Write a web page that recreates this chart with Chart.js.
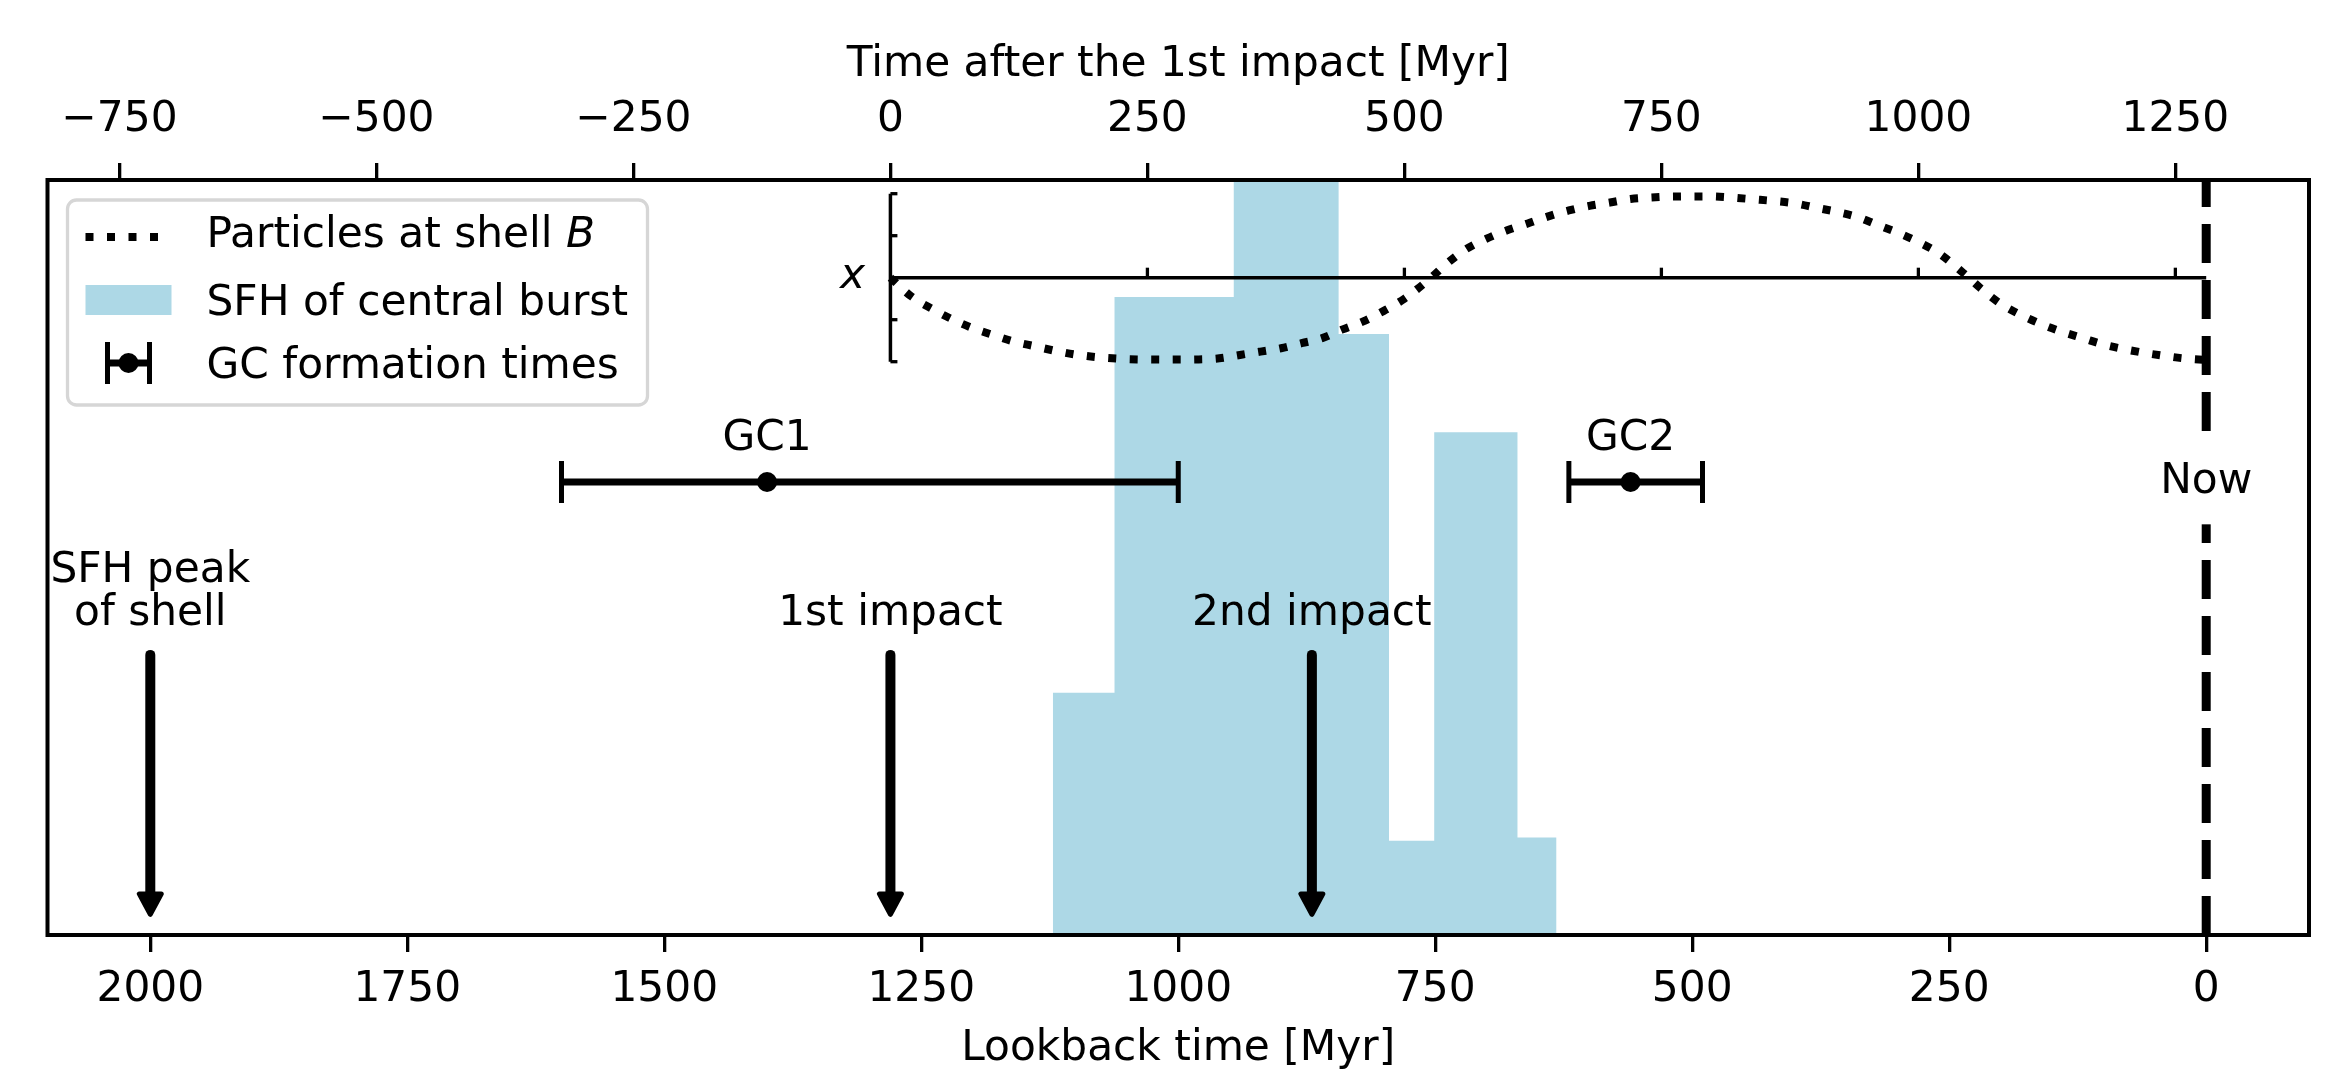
<!DOCTYPE html>
<html><head><meta charset="utf-8">
<script src="https://cdn.jsdelivr.net/npm/chart.js@4.4.1/dist/chart.umd.min.js"></script>
<style>html,body{margin:0;padding:0;background:#fff;} canvas{display:block;}</style>
</head><body>
<canvas id="c" width="2338" height="1070" style="width:2338px;height:1070px"></canvas>
<script>
// ---------------- data ----------------
const bottomTicks = [0, 250, 500, 750, 1000, 1250, 1500, 1750, 2000];
const topTicks = [-750, -500, -250, 0, 250, 500, 750, 1000, 1250];
const lookbackMin = -100, lookbackMax = 2100;
const firstImpactLookback = 1280;

// SFH of central burst: bin edges (lookback, Myr) and relative heights
const sfhEdges = [1122, 1062, 946, 844, 795, 751, 670, 632];
const sfhValues = [0.321, 0.845, 1.15, 0.796, 0.125, 0.666, 0.129];

// Particles at shell B: x vs time after the 1st impact (Myr)
const curveT = [0, 20, 40, 60, 80, 100, 120, 140, 160, 180, 200, 220, 240, 270, 300, 320, 340, 360, 380, 400,
  420, 440, 460, 480, 500, 526, 540, 560, 580, 600, 620, 640, 660, 680, 700, 720, 740, 760, 795, 820,
  840, 860, 880, 900, 920, 940, 960, 980, 1000, 1020, 1049, 1060, 1080, 1100, 1120, 1140, 1160, 1180,
  1200, 1220, 1240, 1260, 1280];
const curveX = [0, -0.44, -0.735, -0.99, -1.20, -1.365, -1.52, -1.63, -1.74, -1.83, -1.89, -1.925, -1.945, -1.95, -1.945, -1.92, -1.84, -1.76, -1.68, -1.56,
  -1.44, -1.23, -1.04, -0.79, -0.50, 0, 0.31, 0.68, 0.93, 1.13, 1.29, 1.46, 1.60, 1.71, 1.79, 1.875, 1.91, 1.93, 1.935, 1.905,
  1.865, 1.825, 1.77, 1.67, 1.57, 1.45, 1.26, 1.07, 0.85, 0.58, 0, -0.24, -0.62, -0.89, -1.11, -1.29, -1.44, -1.59,
  -1.70, -1.79, -1.865, -1.925, -1.96];
const insetTimeTicks = [250, 500, 750, 1000, 1250];
const insetXTicks = [-2, -1, 0, 1, 2];
const insetXRange = [-2, 2];
const insetEnd = 1280;

// GC formation times (lookback, Myr)
const gcNames = ['GC1', 'GC2'];
const gcTimes = [1400, 560];
const gcOld = [1600, 620];
const gcYoung = [1000, 490];
const gcLevel = 0.6;
const gcLabelLevel = 0.643;

// Arrows
const arrowLabels = [['SFH peak', 'of shell'], ['1st impact'], ['2nd impact']];
const arrowTimes = [2000, 1280, 870];
const arrowTop = 0.371, arrowTip = 0.024, arrowTextLevel = 0.411;

const nowLookback = 0;
const nowLabelLevel = 0.585;

const legendLabels = ['Particles at shell ', 'B', 'SFH of central burst', 'GC formation times'];

// ---------------- style ----------------
const FONT = '"DejaVu Sans"';
const FS = 42.3;
const BLUE = '#add8e6';

const sfhPoints = [{x: sfhEdges[0], y: 0}];
for (let i = 0; i < sfhValues.length; i++) {
  sfhPoints.push({x: sfhEdges[i], y: sfhValues[i]});
  sfhPoints.push({x: sfhEdges[i + 1], y: sfhValues[i]});
}
sfhPoints.push({x: sfhEdges[sfhEdges.length - 1], y: 0});

const curvePoints = curveT.map((t, i) => ({x: t, y: curveX[i]}));
const fmt = v => (v < 0 ? '\u2212' + Math.abs(v) : String(v));

function txt(ctx, s, x, y, align, base, italic) {
  ctx.font = (italic ? 'italic ' : '') + FS + 'px ' + FONT;
  ctx.textAlign = align; ctx.textBaseline = base; ctx.fillStyle = '#000';
  ctx.fillText(s, x, y);
}

const deco = {
  id: 'deco',
  afterDatasetsDraw(chart) {
    const ctx = chart.ctx;
    const {x, x2, y, y2} = chart.scales;
    const a = chart.chartArea;
    ctx.save();

    // "Now" label with white box
    const nx = x.getPixelForValue(nowLookback);
    const ny = y.getPixelForValue(nowLabelLevel);
    ctx.fillStyle = '#fff';
    ctx.fillRect(nx - 56, ny - 58, 112, 89);
    txt(ctx, 'Now', nx, ny, 'center', 'alphabetic');

    // inset axes
    ctx.strokeStyle = '#000';
    const ix0 = x2.getPixelForValue(0);
    const iy0 = y2.getPixelForValue(0);
    ctx.lineWidth = 3.5; ctx.lineCap = 'butt';
    ctx.beginPath();
    ctx.moveTo(ix0, y2.getPixelForValue(insetXRange[0]));
    ctx.lineTo(ix0, y2.getPixelForValue(insetXRange[1]));
    ctx.stroke();
    ctx.beginPath();
    ctx.moveTo(ix0, iy0); ctx.lineTo(x2.getPixelForValue(insetEnd), iy0);
    ctx.stroke();
    ctx.lineWidth = 3.3;
    insetXTicks.forEach(v => {
      const py = y2.getPixelForValue(v);
      ctx.beginPath(); ctx.moveTo(ix0, py); ctx.lineTo(ix0 + 7, py); ctx.stroke();
    });
    insetTimeTicks.forEach(v => {
      const px = x2.getPixelForValue(v);
      ctx.beginPath(); ctx.moveTo(px, iy0); ctx.lineTo(px, iy0 - 10); ctx.stroke();
    });
    txt(ctx, 'x', ix0 - 38, iy0 + 10, 'center', 'alphabetic', true);

    // GC error bars and labels
    const gy = y.getPixelForValue(gcLevel);
    gcTimes.forEach((t, i) => {
      const p1 = x.getPixelForValue(gcOld[i]);
      const p2 = x.getPixelForValue(gcYoung[i]);
      ctx.lineWidth = 7;
      ctx.beginPath(); ctx.moveTo(p1, gy); ctx.lineTo(p2, gy); ctx.stroke();
      ctx.lineWidth = 5;
      [p1, p2].forEach(p => { ctx.beginPath(); ctx.moveTo(p, gy - 21); ctx.lineTo(p, gy + 21); ctx.stroke(); });
      ctx.fillStyle = '#000';
      ctx.beginPath(); ctx.arc(x.getPixelForValue(t), gy, 10, 0, Math.PI * 2); ctx.fill();
      txt(ctx, gcNames[i], x.getPixelForValue(t), y.getPixelForValue(gcLabelLevel), 'center', 'alphabetic');
    });

    // arrows
    arrowTimes.forEach((t, i) => {
      const px = x.getPixelForValue(t);
      const yt = y.getPixelForValue(arrowTop);
      const yp = y.getPixelForValue(arrowTip);
      ctx.strokeStyle = '#000'; ctx.fillStyle = '#000';
      ctx.lineWidth = 10; ctx.lineCap = 'round';
      ctx.beginPath(); ctx.moveTo(px, yt); ctx.lineTo(px, yp - 20); ctx.stroke();
      ctx.lineCap = 'butt'; ctx.lineJoin = 'round'; ctx.lineWidth = 5;
      ctx.beginPath();
      ctx.moveTo(px - 11, yp - 23); ctx.lineTo(px + 11, yp - 23); ctx.lineTo(px, yp - 2.5); ctx.closePath();
      ctx.fill(); ctx.stroke();
      const lines = arrowLabels[i];
      const by = y.getPixelForValue(arrowTextLevel);
      lines.forEach((s, k) => {
        txt(ctx, s, px, by - (lines.length - 1 - k) * 43, 'center', 'alphabetic');
      });
    });

    // frame
    ctx.lineJoin = 'miter';
    ctx.strokeStyle = '#000'; ctx.lineWidth = 4;
    ctx.strokeRect(a.left, a.top, a.right - a.left, a.bottom - a.top);

    // legend
    const L = a.left + 20, T = a.top + 20, W = 580, H = 205, r = 9;
    ctx.beginPath();
    ctx.moveTo(L + r, T); ctx.lineTo(L + W - r, T); ctx.arcTo(L + W, T, L + W, T + r, r);
    ctx.lineTo(L + W, T + H - r); ctx.arcTo(L + W, T + H, L + W - r, T + H, r);
    ctx.lineTo(L + r, T + H); ctx.arcTo(L, T + H, L, T + H - r, r);
    ctx.lineTo(L, T + r); ctx.arcTo(L, T, L + r, T, r); ctx.closePath();
    ctx.fillStyle = 'rgba(255,255,255,0.8)'; ctx.fill();
    ctx.strokeStyle = '#d6d6d6'; ctx.lineWidth = 3.3; ctx.stroke();

    const hx0 = L + 18, hx1 = L + 104, tx = L + 139;
    // row 1 dotted
    ctx.strokeStyle = '#000'; ctx.lineWidth = 8; ctx.setLineDash([8, 13.5]); ctx.lineCap = 'butt';
    ctx.beginPath(); ctx.moveTo(hx0, T + 37); ctx.lineTo(hx1, T + 37); ctx.stroke();
    ctx.setLineDash([]);
    txt(ctx, legendLabels[0], tx, T + 47, 'left', 'alphabetic');
    ctx.font = FS + 'px ' + FONT;
    const w0 = ctx.measureText(legendLabels[0]).width;
    txt(ctx, legendLabels[1], tx + w0, T + 47, 'left', 'alphabetic', true);
    // row 2 patch
    ctx.fillStyle = BLUE; ctx.fillRect(hx0, T + 85, hx1 - hx0, 30);
    txt(ctx, legendLabels[2], tx, T + 114.5, 'left', 'alphabetic');
    // row 3 errorbar
    const ey = T + 163, ea = L + 40, eb = L + 82;
    ctx.strokeStyle = '#000'; ctx.lineWidth = 7;
    ctx.beginPath(); ctx.moveTo(ea, ey); ctx.lineTo(eb, ey); ctx.stroke();
    ctx.lineWidth = 5;
    [ea, eb].forEach(p => { ctx.beginPath(); ctx.moveTo(p, ey - 21); ctx.lineTo(p, ey + 21); ctx.stroke(); });
    ctx.fillStyle = '#000'; ctx.beginPath(); ctx.arc((ea + eb) / 2, ey, 10, 0, Math.PI * 2); ctx.fill();
    txt(ctx, legendLabels[3], tx, T + 178, 'left', 'alphabetic');

    ctx.restore();
  }
};

const tickFont = {family: 'DejaVu Sans', size: FS};

new Chart(document.getElementById('c'), {
  type: 'line',
  data: {
    datasets: [
      {label: 'GC formation times', data: gcTimes.map(t => ({x: t, y: gcLevel})), showLine: false,
        pointRadius: 0, borderWidth: 0, xAxisID: 'x', yAxisID: 'y', order: 1},
      {label: 'Particles at shell B', data: curvePoints, xAxisID: 'x2', yAxisID: 'y2',
        borderColor: '#000', borderWidth: 8, borderDash: [8, 13.5], borderCapStyle: 'butt',
        pointRadius: 0, cubicInterpolationMode: 'monotone', fill: false, order: 3},
      {label: 'Now', data: [{x: nowLookback, y: 0}, {x: nowLookback, y: 1}], xAxisID: 'x', yAxisID: 'y',
        borderColor: '#000', borderWidth: 9, borderDash: [39, 17], borderCapStyle: 'butt',
        pointRadius: 0, fill: false, order: 5},
      {label: 'SFH of central burst', data: sfhPoints, xAxisID: 'x', yAxisID: 'y',
        borderWidth: 0, borderColor: 'rgba(0,0,0,0)', backgroundColor: BLUE, fill: 'origin',
        pointRadius: 0, tension: 0, order: 10}
    ]
  },
  options: {
    responsive: false, devicePixelRatio: 1, animation: false, events: [],
    layout: {padding: {left: 47.5, right: 29, top: 0, bottom: 0}},
    plugins: {legend: {display: false}, tooltip: {enabled: false}},
    scales: {
      x: {
        type: 'linear', position: 'bottom', min: lookbackMin, max: lookbackMax, reverse: true,
        afterBuildTicks: s => { s.ticks = bottomTicks.map(v => ({value: v})); },
        afterFit: s => { s.height = 135; },
        ticks: {font: tickFont, color: '#000', padding: 13, autoSkip: false, maxRotation: 0, callback: fmt},
        grid: {display: true, drawOnChartArea: false, drawTicks: true, tickLength: 17, lineWidth: 3.3, color: '#000'},
        border: {display: false},
        title: {display: true, text: 'Lookback time [Myr]', color: '#000',
          font: {family: 'DejaVu Sans', size: FS, lineHeight: 1}, padding: {top: 0, bottom: 0}}
      },
      x2: {
        type: 'linear', position: 'top', min: firstImpactLookback - lookbackMax, max: firstImpactLookback - lookbackMin,
        afterBuildTicks: s => { s.ticks = topTicks.map(v => ({value: v})); },
        afterFit: s => { s.height = 180; },
        ticks: {font: tickFont, color: '#000', padding: 18, autoSkip: false, maxRotation: 0, callback: fmt},
        grid: {display: true, drawOnChartArea: false, drawTicks: true, tickLength: 17, lineWidth: 3.3, color: '#000'},
        border: {display: false},
        title: {display: true, text: 'Time after the 1st impact [Myr]', color: '#000',
          font: {family: 'DejaVu Sans', size: FS, lineHeight: 1}, padding: {top: 44, bottom: 0}}
      },
      y: {type: 'linear', display: false, min: 0, max: 1},
      y2: {type: 'linear', display: false, min: -15.65, max: 2.326}
    }
  },
  plugins: [deco]
});
</script>
</body></html>
